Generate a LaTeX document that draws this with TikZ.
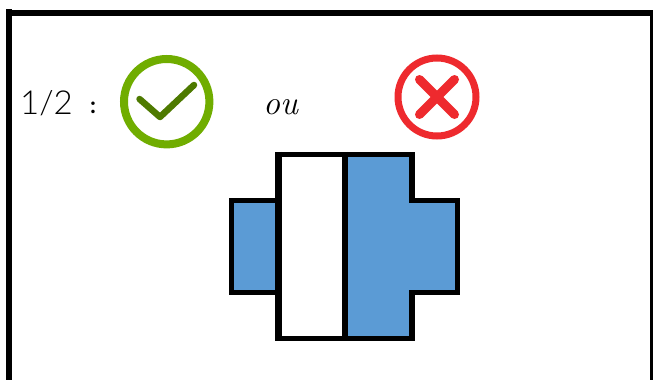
\documentclass[tikz,border=0pt]{standalone}
\usepackage{fontspec}
\setmainfont{Lato Light}
\newfontfamily\cursivefont{Latin Modern Roman}
\newfontfamily\colonfont{Lato}[BoldFont=* Bold]
\definecolor{okgreen}{HTML}{70AD00}
\definecolor{okdark}{HTML}{4E7A00}
\definecolor{nored}{HTML}{EE2A2E}
\definecolor{partblue}{HTML}{5B9BD5}
\tikzset{
  part/.style={draw=black,line width=5.5pt,miter limit=10},
  ring/.style={line width=#1},
  mark line/.style={line cap=round,line join=round},
  label text/.style={inner sep=0pt,text=black}
}
\begin{document}
\begin{tikzpicture}[x=1pt,y=-1pt]
\useasboundingbox (0,0) rectangle (653,380);
\fill[white] (0,0) rectangle (653,380);
% frame
\fill[black] (6,9) rectangle (12,380);
\fill[black] (6,10) rectangle (653,15.7);
\fill[black] (650,10) rectangle (653,380);
% text
\node[label text,font=\fontsize{33}{33}\selectfont] (frac) at (46.5,103.5) {1/2};
\node[label text,font=\colonfont\bfseries\fontsize{23}{23}\selectfont] (colon) at (93,108) {:};
\node[label text,font=\cursivefont\itshape\fontsize{34}{34}\selectfont] (ou) at (280.5,107) {ou};
% check mark
\draw[okgreen,ring=8pt] (166.7,101.7) circle (42.7);
\draw[okdark,mark line,line width=6.5pt] (139.5,99) -- (160,117) -- (194,85);
% cross mark
\draw[nored,ring=7pt] (437,97) circle (39);
\draw[nored,mark line,line width=9pt] (419.5,79.5) -- (454.5,114.5);
\draw[nored,mark line,line width=9pt] (454.5,79.5) -- (419.5,114.5);
% shape
\draw[part,fill=partblue] (231.5,200.5) rectangle (280,292.5);
\draw[part,fill=partblue] (345,154.5) -- (411.8,154.5) -- (411.8,200.5) -- (457.5,200.5) -- (457.5,292.5) -- (411.8,292.5) -- (411.8,338.5) -- (345,338.5) -- cycle;
\fill[white] (278.5,154.5) rectangle (345,338.5);
\draw[draw=black,line width=5.5pt] (345,154.5) -- (278.5,154.5) (278.5,338.5) -- (345,338.5) (345,151.75) -- (345,341.25);
\draw[draw=black,line width=7pt] (278.5,151.75) -- (278.5,341.25);
\end{tikzpicture}
\end{document}
